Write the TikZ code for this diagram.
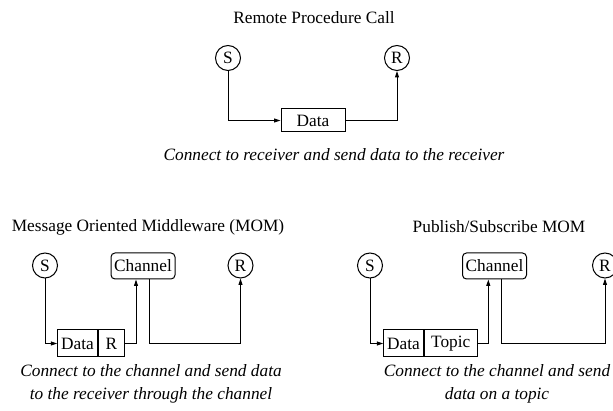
\documentclass[tikz,border=0pt]{standalone}
\usepackage{fontspec}
\setmainfont{Liberation Serif}
\usetikzlibrary{arrows.meta,calc}
\begin{document}
\begin{tikzpicture}[x=1pt,y=-1pt,
  font=\fontsize{17.3}{21}\selectfont,
  line width=1pt,
  >={Triangle[length=6.5pt,width=4pt]},
  party/.style={circle,draw,minimum size=25pt,inner sep=0pt},
  chan/.style={draw,rounded corners=4pt,minimum width=64pt,minimum height=26pt,inner sep=0pt},
  cell/.style={draw,minimum height=27pt,inner sep=0pt},
  heading/.style={inner sep=0pt},
  note/.style={font=\fontsize{17.3}{23}\selectfont\itshape,align=center,inner sep=0pt}]
\useasboundingbox (0,0) rectangle (613,411);

% --- Remote Procedure Call ---
\node[heading] (t1) at (314,18) {Remote Procedure Call};
\node[party] (s1) at (228,58) {S};
\node[party] (r1) at (397,58) {R};
\node[draw,minimum width=64pt,minimum height=23pt,inner sep=0pt] (data1) at (313,120.5) {Data};
\draw[->] (s1.south) |- (data1.west);
\draw[->] (data1.east) -| (r1.south);
\node[note] (c1) at (334,155) {Connect to receiver and send data to the receiver};

% --- Message Oriented Middleware ---
\node[heading] (t2) at (148,227) {Message Oriented Middleware (MOM)};
\node[party] (s2) at (45,265.5) {S};
\node[chan] (ch2) at (143,266) {Channel};
\node[party] (r2) at (240.5,265.5) {R};
\node[cell,minimum width=39.4pt,anchor=west] (d2) at (57.3,343.5) {Data};
\node[cell,minimum width=26.6pt,anchor=west] (k2) at (d2.east) {R};
\draw[->] (s2.south) |- (d2.west);
\draw[->] (k2.east) -| ([xshift=-7pt]ch2.south);
\draw[->] ([xshift=6pt]ch2.south) |- (r2.south |- d2.center) -- (r2.south);
\node[note] (c2) at (151,383.5) {Connect to the channel and send data\\to the receiver through the channel};

% --- Publish/Subscribe MOM ---
\node[heading] (t3) at (499,227) {Publish/Subscribe MOM};
\node[party] (s3) at (370,265.5) {S};
\node[chan] (ch3) at (494.5,266) {Channel};
\node[party] (r3) at (605,265.5) {R};
\node[cell,minimum width=39.4pt,anchor=west] (d3) at (383.3,343.5) {Data};
\node[cell,minimum width=53pt,anchor=west] (k3) at (d3.east) {Topic};
\draw[->] (s3.south) |- (d3.west);
\draw[->] (k3.east) -| ([xshift=-6.2pt]ch3.south);
\draw[->] ([xshift=6.5pt]ch3.south) |- (r3.south |- d3.center) -- (r3.south);
\node[note] (c3) at (497,383.5) {Connect to the channel and send\\data on a topic};
\end{tikzpicture}
\end{document}
